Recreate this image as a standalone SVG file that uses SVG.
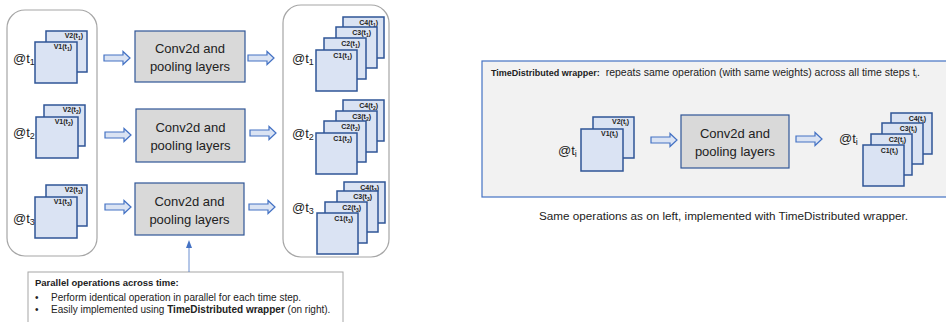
<svg xmlns="http://www.w3.org/2000/svg" width="946" height="322" viewBox="0 0 946 322">
<style>
text{font-family:"Liberation Sans",Arial,sans-serif;fill:#222}
.cont{fill:#fff;stroke:#a6a6a6;stroke-width:1.2}
.sq{fill:#dae3f3;stroke:#2f5597;stroke-width:1.5}
.conv{fill:#d9d9d9;stroke:#2f5597;stroke-width:1.2}
.ba{fill:#dae3f3;stroke:#4472c4;stroke-width:1.2}
.lb{font-size:7px;font-weight:bold;text-anchor:end}
.sb{font-size:5px}
.at{font-size:13px}
.as{font-size:9px}
.ct{font-size:13px;text-anchor:middle}
.note{font-size:10px}
</style>
<defs>
<path id="ba" class="ba" d="M0,-3 H19 V-6.5 L26,0 L19,6.5 V3 H0 Z"/>
<marker id="ah" markerWidth="8" markerHeight="8" refX="4" refY="4" orient="auto" markerUnits="userSpaceOnUse">
<path d="M0,1 L8,4 L0,7 Z" fill="#4472c4"/>
</marker>
</defs>

<g id="containers">
<rect class="cont" x="7" y="10" width="90" height="246" rx="18"/>
<rect class="cont" x="283" y="5" width="106" height="252" rx="18"/>
</g>

<g id="input-t1">
<rect class="sq" x="46" y="31" width="41" height="41"/>
<text class="lb" x="83" y="38">V2(t<tspan class="sb" dy="1.5">1</tspan><tspan dy="-1.5">)</tspan></text>
<rect class="sq" x="35" y="42" width="42" height="41"/>
<text class="lb" x="72" y="49">V1(t<tspan class="sb" dy="1.5">1</tspan><tspan dy="-1.5">)</tspan></text>
<text class="at" x="13" y="63">@t<tspan class="as" dy="2">1</tspan></text>
</g>
<g id="input-t2">
<rect class="sq" x="44" y="105" width="41" height="41"/>
<text class="lb" x="81" y="112">V2(t<tspan class="sb" dy="1.5">2</tspan><tspan dy="-1.5">)</tspan></text>
<rect class="sq" x="36" y="117" width="42" height="41"/>
<text class="lb" x="73" y="124">V1(t<tspan class="sb" dy="1.5">2</tspan><tspan dy="-1.5">)</tspan></text>
<text class="at" x="13" y="137">@t<tspan class="as" dy="2">2</tspan></text>
</g>
<g id="input-t3">
<rect class="sq" x="46" y="185" width="41" height="41"/>
<text class="lb" x="83" y="192">V2(t<tspan class="sb" dy="1.5">3</tspan><tspan dy="-1.5">)</tspan></text>
<rect class="sq" x="35" y="197" width="42" height="41"/>
<text class="lb" x="72" y="204">V1(t<tspan class="sb" dy="1.5">3</tspan><tspan dy="-1.5">)</tspan></text>
<text class="at" x="13" y="223">@t<tspan class="as" dy="2">3</tspan></text>
</g>

<g id="conv-t1">
<rect class="conv" x="135" y="31" width="110" height="51"/>
<text class="ct" x="190" y="53">Conv2d and</text>
<text class="ct" x="190" y="71">pooling layers</text>
</g>
<g id="conv-t2">
<rect class="conv" x="136" y="109" width="109" height="53"/>
<text class="ct" x="190.5" y="132">Conv2d and</text>
<text class="ct" x="190.5" y="150">pooling layers</text>
</g>
<g id="conv-t3">
<rect class="conv" x="135" y="183" width="109" height="52"/>
<text class="ct" x="189.5" y="206">Conv2d and</text>
<text class="ct" x="189.5" y="224">pooling layers</text>
</g>

<g id="output-t1">
<text class="at" x="292" y="63">@t<tspan class="as" dy="2">1</tspan></text>
<rect class="sq" x="343" y="17" width="41" height="41"/>
<text class="lb" x="378" y="25">C4(t<tspan class="sb" dy="1.5">1</tspan><tspan dy="-1.5">)</tspan></text>
<rect class="sq" x="336" y="27" width="41" height="41"/>
<text class="lb" x="371" y="35">C3(t<tspan class="sb" dy="1.5">1</tspan><tspan dy="-1.5">)</tspan></text>
<rect class="sq" x="324" y="38" width="42" height="41"/>
<text class="lb" x="360" y="46">C2(t<tspan class="sb" dy="1.5">1</tspan><tspan dy="-1.5">)</tspan></text>
<rect class="sq" x="316" y="50" width="41" height="41"/>
<text class="lb" x="352" y="58">C1(t<tspan class="sb" dy="1.5">1</tspan><tspan dy="-1.5">)</tspan></text>
</g>
<g id="output-t2">
<text class="at" x="292" y="138">@t<tspan class="as" dy="2">2</tspan></text>
<rect class="sq" x="343" y="100" width="41" height="41"/>
<text class="lb" x="378" y="108">C4(t<tspan class="sb" dy="1.5">2</tspan><tspan dy="-1.5">)</tspan></text>
<rect class="sq" x="336" y="111" width="41" height="41"/>
<text class="lb" x="371" y="119">C3(t<tspan class="sb" dy="1.5">2</tspan><tspan dy="-1.5">)</tspan></text>
<rect class="sq" x="324" y="121" width="42" height="41"/>
<text class="lb" x="360" y="129">C2(t<tspan class="sb" dy="1.5">2</tspan><tspan dy="-1.5">)</tspan></text>
<rect class="sq" x="316" y="133" width="41" height="41"/>
<text class="lb" x="352" y="141">C1(t<tspan class="sb" dy="1.5">2</tspan><tspan dy="-1.5">)</tspan></text>
</g>
<g id="output-t3">
<text class="at" x="292" y="212">@t<tspan class="as" dy="2">3</tspan></text>
<rect class="sq" x="344" y="182" width="41" height="41"/>
<text class="lb" x="379" y="190">C4(t<tspan class="sb" dy="1.5">3</tspan><tspan dy="-1.5">)</tspan></text>
<rect class="sq" x="337" y="191" width="41" height="41"/>
<text class="lb" x="372" y="199">C3(t<tspan class="sb" dy="1.5">3</tspan><tspan dy="-1.5">)</tspan></text>
<rect class="sq" x="325" y="202" width="42" height="41"/>
<text class="lb" x="361" y="210">C2(t<tspan class="sb" dy="1.5">3</tspan><tspan dy="-1.5">)</tspan></text>
<rect class="sq" x="317" y="213" width="41" height="41"/>
<text class="lb" x="353" y="221">C1(t<tspan class="sb" dy="1.5">3</tspan><tspan dy="-1.5">)</tspan></text>
</g>

<g id="note">
<rect x="28" y="272" width="315" height="60" fill="#fff" stroke="#a6a6a6" stroke-width="1"/>
<text x="35" y="286" font-size="9.5" font-weight="bold">Parallel operations across time:</text>
<text class="note" x="35" y="301">•</text>
<text class="note" x="51" y="301">Perform identical operation in parallel for each time step.</text>
<text class="note" x="35" y="313">•</text>
<text class="note" x="51" y="313">Easily implemented using <tspan font-weight="bold">TimeDistributed wrapper</tspan> (on right).</text>
</g>

<g id="td-panel">
<rect x="482" y="61" width="470" height="136" fill="#f2f2f2" stroke="#4472c4" stroke-width="1.2"/>
<text x="491" y="76" font-size="10.5" xml:space="preserve"><tspan font-size="9" font-weight="bold">TimeDistributed wrapper:</tspan>  repeats same operation (with same weights) across all time steps t<tspan font-size="6" dy="1.5">i</tspan><tspan dy="-1.5">.</tspan></text>
</g>
<g id="td-input">
<rect class="sq" x="593" y="117" width="41" height="41"/>
<text class="lb" x="629" y="124">V2(t<tspan class="sb" dy="1.5">i</tspan><tspan dy="-1.5">)</tspan></text>
<rect class="sq" x="581" y="129" width="42" height="42"/>
<text class="lb" x="618" y="136">V1(t<tspan class="sb" dy="1.5">i</tspan><tspan dy="-1.5">)</tspan></text>
<text class="at" x="558" y="155">@t<tspan class="as" dy="2">i</tspan></text>
</g>
<g id="td-conv">
<rect class="conv" x="681" y="115" width="108" height="53"/>
<text class="ct" x="735" y="138">Conv2d and</text>
<text class="ct" x="735" y="156">pooling layers</text>
</g>
<g id="td-output">
<text class="at" x="839" y="143">@t<tspan class="as" dy="2">i</tspan></text>
<rect class="sq" x="891" y="113" width="41" height="41"/>
<text class="lb" x="926" y="121">C4(t<tspan class="sb" dy="1.5">i</tspan><tspan dy="-1.5">)</tspan></text>
<rect class="sq" x="882" y="123" width="41" height="41"/>
<text class="lb" x="917" y="131">C3(t<tspan class="sb" dy="1.5">i</tspan><tspan dy="-1.5">)</tspan></text>
<rect class="sq" x="871" y="134" width="41" height="41"/>
<text class="lb" x="906" y="142">C2(t<tspan class="sb" dy="1.5">i</tspan><tspan dy="-1.5">)</tspan></text>
<rect class="sq" x="863" y="145" width="41" height="41"/>
<text class="lb" x="898" y="153">C1(t<tspan class="sb" dy="1.5">i</tspan><tspan dy="-1.5">)</tspan></text>
</g>
<text id="caption" x="539" y="220" font-size="11.7">Same operations as on left, implemented with TimeDistributed wrapper.</text>

<g id="connectors">
<use href="#ba" transform="translate(104,58)"/>
<use href="#ba" transform="translate(248,58)"/>
<use href="#ba" transform="translate(105,135)"/>
<use href="#ba" transform="translate(250,133)"/>
<use href="#ba" transform="translate(105,207)"/>
<use href="#ba" transform="translate(249,207)"/>
<use href="#ba" transform="translate(651,140)"/>
<use href="#ba" transform="translate(796,139)"/>
<line x1="189" y1="272" x2="189" y2="244" stroke="#4472c4" stroke-width="0.8" marker-end="url(#ah)"/>
</g>
</svg>
